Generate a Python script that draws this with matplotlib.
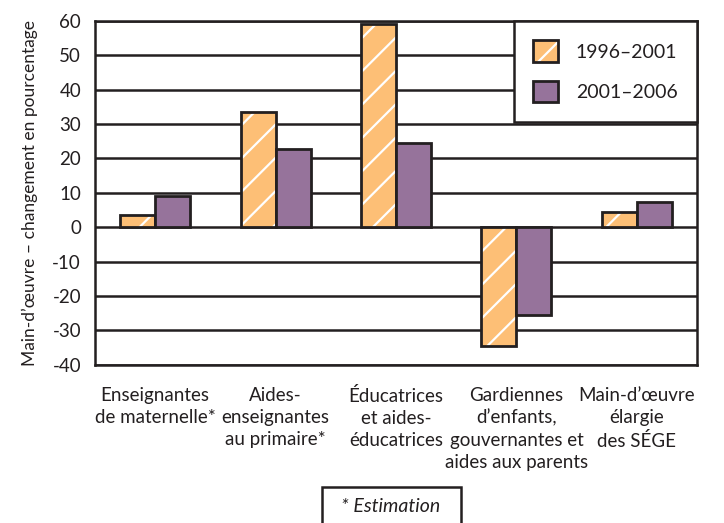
import numpy as np
import matplotlib.pyplot as plt
from matplotlib.patches import Patch, Rectangle
from matplotlib.legend_handler import HandlerTuple

plt.rcParams['font.family'] = ['Lato', 'DejaVu Sans']
plt.rcParams['hatch.linewidth'] = 1.6

categories = ["Enseignantes\nde maternelle*",
              "Aides-\nenseignantes\nau primaire*",
              "Éducatrices\net aides-\néducatrices",
              "Gardiennes\nd’enfants,\ngouvernantes et\naides aux parents",
              "Main-d’œuvre\nélargie\ndes SÉGE"]
periode_1996_2001 = [3.5, 33.5, 59.0, -34.5, 4.5]
periode_2001_2006 = [9.2, 22.8, 24.5, -25.5, 7.4]
yticks = [60, 50, 40, 30, 20, 10, 0, -10, -20, -30, -40]

orange = '#fdbf76'
purple = '#96739b'
dark = '#231f20'

fig = plt.figure(figsize=(7.24, 5.23), dpi=100)
ax = fig.add_axes([0.1312, 0.3029, 0.8315, 0.6569])

x = np.arange(len(categories))
w = 0.29

# hatched fill first (white hatch), then dark outline on top
ax.bar(x - w/2, periode_1996_2001, w, color=orange, edgecolor='white',
       hatch='/', linewidth=0, zorder=3)
ax.bar(x - w/2, periode_1996_2001, w, fill=False, edgecolor=dark,
       linewidth=2, zorder=4)
ax.bar(x + w/2, periode_2001_2006, w, color=purple, edgecolor=dark,
       linewidth=2, zorder=4)

ax.set_xlim(-0.5, len(categories) - 0.5)
ax.set_ylim(-40, 60)
ax.set_yticks(yticks)
ax.set_yticklabels([str(v) for v in yticks], fontsize=13.5)
ax.yaxis.grid(True, color=dark, linewidth=1.8)
ax.set_axisbelow(True)
ax.tick_params(axis='both', length=0, colors=dark)
ax.tick_params(axis='y', pad=10)
ax.set_xticks(x)
ax.set_xticklabels(categories, fontsize=13.5, linespacing=1.38, va='top')
ax.tick_params(axis='x', pad=16)
for s in ax.spines.values():
    s.set_color(dark)
    s.set_linewidth(1.8)

ax.set_ylabel("Main-d’œuvre – changement en pourcentage", fontsize=12.5,
              color=dark, labelpad=10)

h1 = (Patch(facecolor=orange, edgecolor='white', hatch='/', linewidth=0),
      Patch(fill=False, edgecolor=dark, linewidth=2))
h2 = Patch(facecolor=purple, edgecolor=dark, linewidth=2)
leg = ax.legend([h1, h2], ["1996–2001", "2001–2006"],
                handler_map={tuple: HandlerTuple(ndivide=1, pad=0)},
                loc='upper right', bbox_to_anchor=(1, 1), borderaxespad=0,
                fancybox=False, framealpha=1, edgecolor=dark, fontsize=14,
                handlelength=1.3, handleheight=1.3, borderpad=1.0,
                labelspacing=1.0, handletextpad=0.9)
leg.get_frame().set_linewidth(1.8)
leg.set_zorder(5)
for t in leg.get_texts():
    t.set_color(dark)

# footnote box, cut at the lower edge
fig.patches.append(Rectangle((0.4448, -0.05), 0.192, 0.1188,
                             transform=fig.transFigure, fill=False,
                             edgecolor=dark, linewidth=1.8))
fig.text(0.540, 0.032, "* Estimation", ha='center', va='center',
         fontsize=14, style='italic', color=dark)

fig.savefig('out.png', dpi=100)
